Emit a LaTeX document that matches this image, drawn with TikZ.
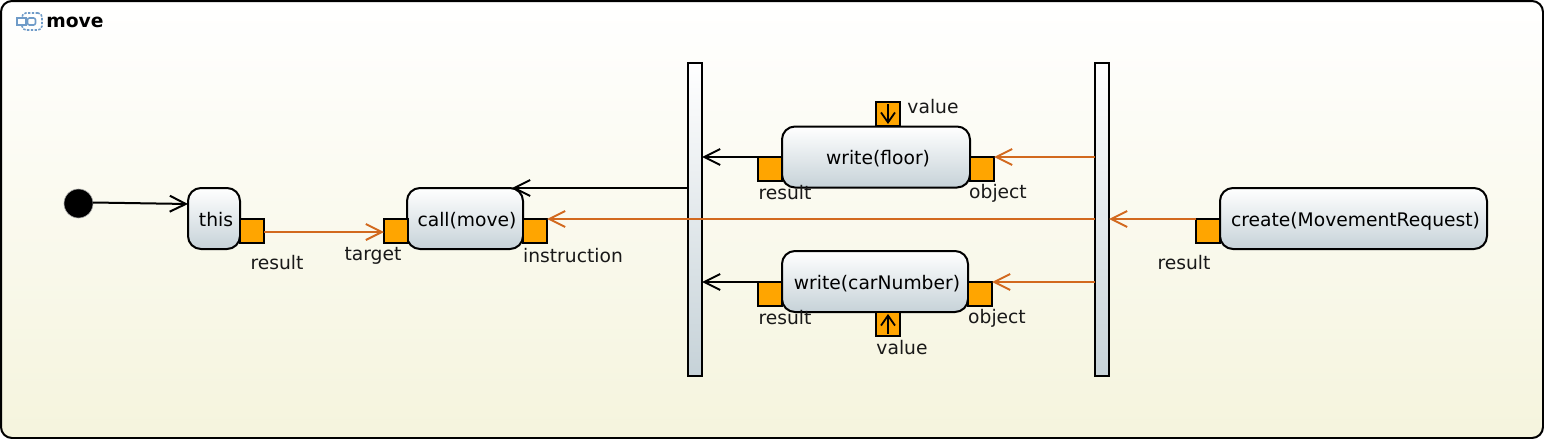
\documentclass[tikz,border=0pt]{standalone}
\usepackage{fontspec}
\setmainfont{DejaVu Sans}
\usepackage{xcolor}
\usetikzlibrary{positioning,arrows.meta,backgrounds,calc}
\definecolor{pinorange}{HTML}{FFA500}
\definecolor{flowbrown}{HTML}{D2691E}
\definecolor{actionblue}{HTML}{C6D2D8}
\definecolor{framecream}{HTML}{F5F4DD}
\definecolor{iconblue}{HTML}{6F9BC8}

\begin{document}
\begin{tikzpicture}[
  x=0.5pt, y=-0.5pt,
  font=\fontsize{9.35pt}{11pt}\selectfont,
  action/.style={draw, line width=1pt, rounded corners=6.5pt, top color=white, bottom color=actionblue, align=center, inner sep=0pt, outer sep=0pt, minimum height=30.5pt, text height=8.5pt, text depth=1pt, execute at begin node=\hspace*{2pt}},
  bar/.style={draw, line width=0.7pt, top color=white, bottom color=actionblue, inner sep=0pt, outer sep=0pt, minimum width=7pt, minimum height=156.5pt},
  pinbox/.style={draw, line width=1pt, fill=pinorange, inner sep=0pt, outer sep=0pt, minimum size=12pt},
  lbl/.style={inner sep=0pt, text=black!90},
  ctrl/.style={-{Straight Barb[length=8pt, width=8pt, line width=1pt]}, line width=1pt},
  obj/.style={ctrl, flowbrown},
  pinarr/.style={-{Straight Barb[length=5pt, width=7pt, line width=0.9pt]}, line width=0.9pt, shorten >=1pt, shorten <=1pt}]
\useasboundingbox (0,0) rectangle (1544,439);

% Activity frame
\begin{scope}[on background layer]
\node[draw, line width=1pt, rounded corners=5.5pt, top color=white, bottom color=framecream, inner sep=0pt, outer sep=0pt, minimum width=771pt, minimum height=218.5pt] (frame) at (772,219.5) {};
\end{scope}

% Frame title and icon
\node[draw=iconblue, dash pattern=on 1.2pt off 0.7pt, line width=0.8pt, rounded corners=2pt, inner sep=0pt, minimum width=10pt, minimum height=8.5pt] (iconbox) at (32,21.5) {};
\node[draw=iconblue, line width=0.8pt, fill=white, inner sep=0pt, minimum width=4.5pt, minimum height=3.5pt] (iconrect) at (21.5,21.5) {};
\node[draw=iconblue, line width=0.8pt, rounded corners=1pt, inner sep=0pt, minimum width=4pt, minimum height=3.5pt] (iconround) at (31.5,21.5) {};
\node[lbl, anchor=west, font=\fontsize{9.35pt}{11pt}\selectfont\bfseries, text=black] (title) at (46,22) {move};

% Left part
\node[circle, fill=black, draw=black!35, line width=0.3pt, inner sep=0pt, outer sep=0pt, minimum size=14.5pt] (start) at (78.5,203.5) {};
\node[action, minimum width=26pt] (this) at (214,218.5) {this};
\node[action, minimum width=58pt] (callmove) at (465,218.5) {call(move)};

% Forks
\node[bar] (forkleft) at (695,219.5) {};
\node[bar] (forkright) at (1102,219.5) {};

% Middle and right actions
\node[action, minimum width=94pt] (writefloor) at (876,157) {write(floor)};
\node[action, minimum width=93pt] (writecar) at (875,281.5) {write(carNumber)};
\node[action, minimum width=133.5pt] (create) at (1353.5,218.5) {create(MovementRequest)};

% Pins
\node[pinbox] (thisres) at (252,231) {};
\node[pinbox] (calltarget) at (396,231) {};
\node[pinbox] (callinstr) at (535,231) {};
\node[pinbox] (floorres) at (770,169) {};
\node[pinbox] (floorobj) at (982,169) {};
\node[pinbox] (floorval) at (888,114) {};
\node[pinbox] (carres) at (770,294) {};
\node[pinbox] (carobj) at (980,294) {};
\node[pinbox] (carval) at (888,324) {};
\node[pinbox] (createres) at (1208,231) {};

% Pin labels
\node[lbl] (thisreslbl) at (277,263) {result};
\node[lbl] (calltargetlbl) at (373,256) {target};
\node[lbl] (callinstrlbl) at (573,255.5) {instruction};
\node[lbl] (floorreslbl) at (785,193) {result};
\node[lbl] (floorobjlbl) at (998,193.5) {object};
\node[lbl] (floorvallbl) at (933,107) {value};
\node[lbl] (carreslbl) at (785,318) {result};
\node[lbl] (carobjlbl) at (997,318.5) {object};
\node[lbl] (carvallbl) at (902,347.5) {value};
\node[lbl] (createreslbl) at (1184,263) {result};

% Edges
\draw[ctrl] ([yshift=0.5pt]start.east) -- (this.west |- 0,204);
\draw[obj] ([yshift=-0.5pt]thisres.east) -- ([yshift=-0.5pt]calltarget.west);
\draw[ctrl] (forkleft.west |- callmove.north) -- ([xshift=23.5pt]callmove.north);
\draw[ctrl] (floorres.north west) -- (floorres.north west -| forkleft.east);
\draw[ctrl] (carres.north west) -- (carres.north west -| forkleft.east);
\draw[obj] (forkright.west |- floorobj.north) -- (floorobj.north east);
\draw[obj] (forkright.west |- carobj.north) -- (carobj.north east);
\draw[obj] (createres.north west) -- (createres.north west -| forkright.east);
\draw[obj] (forkright.west |- callinstr.north) -- (callinstr.north east);

% Arrows inside the value pins
\draw[pinarr] (floorval.north) -- (floorval.south);
\draw[pinarr] (carval.south) -- (carval.north);
\end{tikzpicture}
\end{document}
